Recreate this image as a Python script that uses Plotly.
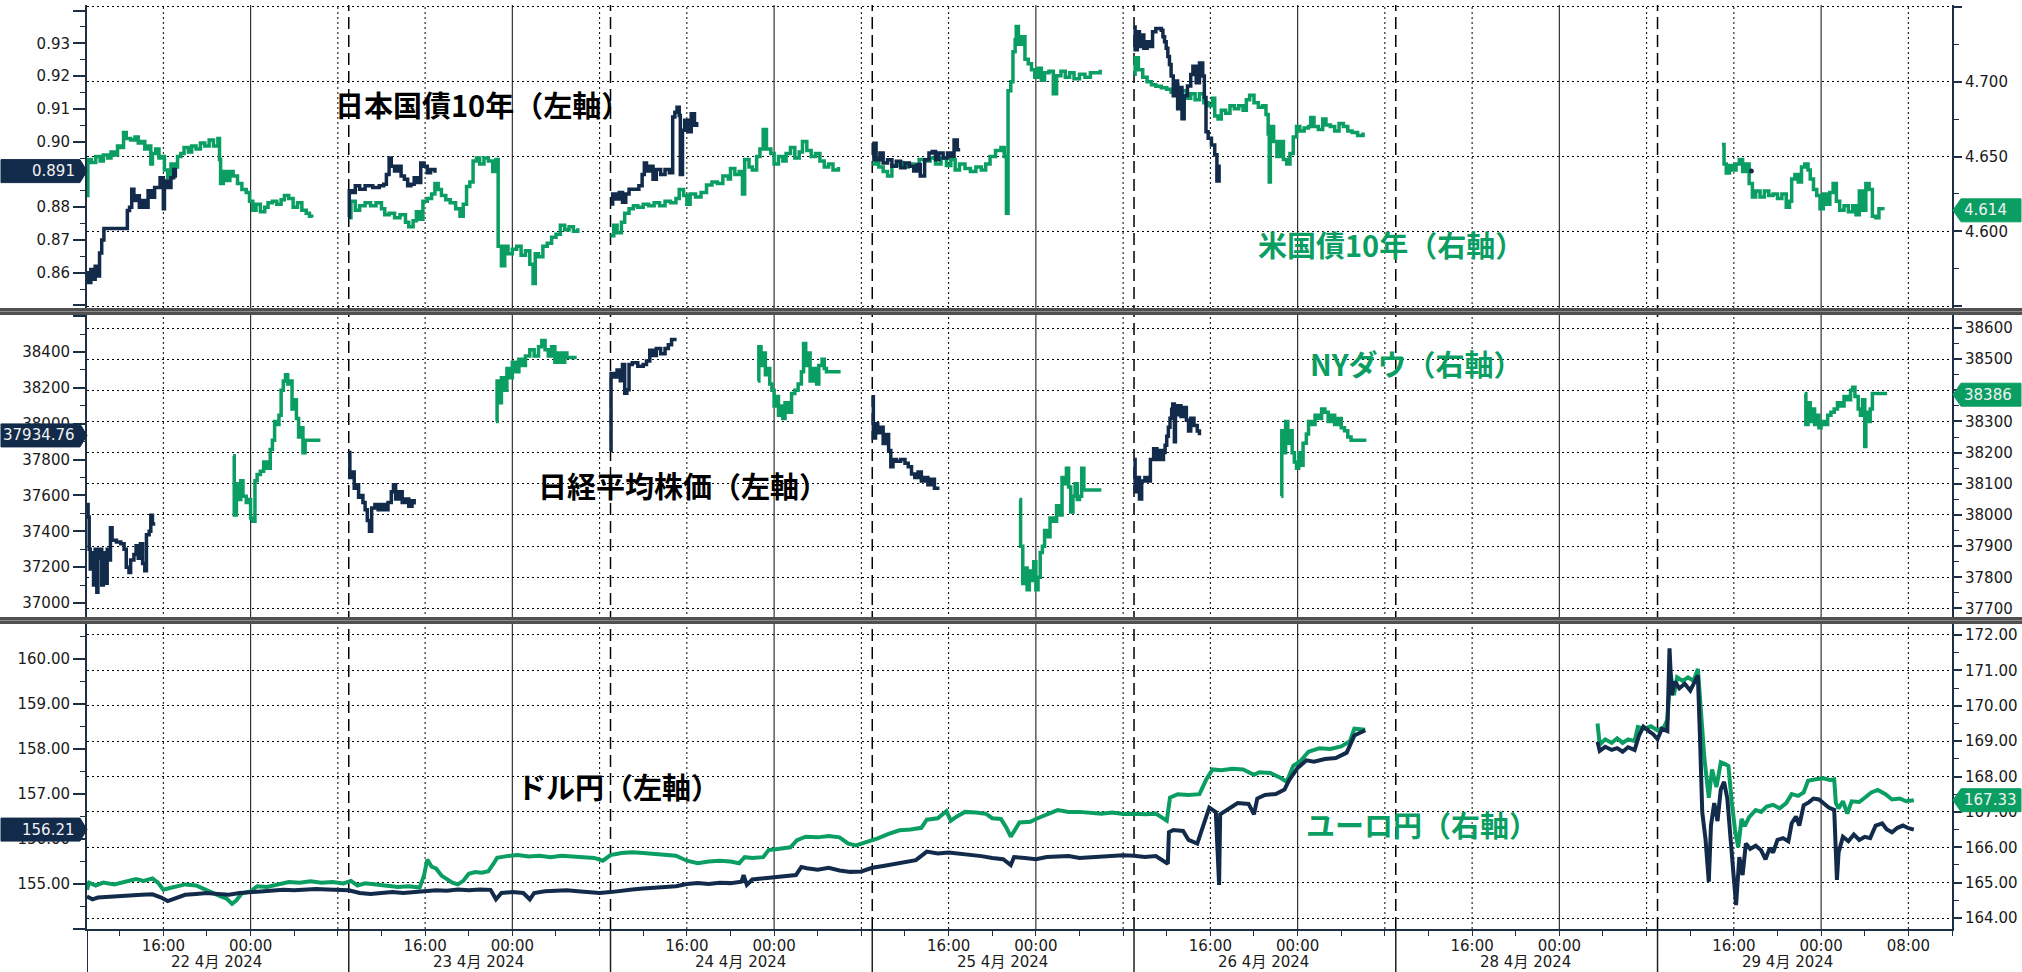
import plotly.graph_objects as go

W, H = 2022, 972
NAVY = '#132b4a'
GREEN = '#0b9e63'
AXC = '#1c2f45'
TXT = '#1a1a1a'

# ---------------- time axis -----------------
# hours since 22 Apr 2024 09:00 JST; the weekend gap (27 Apr 09:00 - 28 Apr 09:00) is removed
SECTION_DATES = ['22 4月 2024', '23 4月 2024', '24 4月 2024', '25 4月 2024',
                 '26 4月 2024', '28 4月 2024', '29 4月 2024']
X_TICK_H = [7, 15, 31, 39, 55, 63, 79, 87, 103, 111, 127, 135, 151, 159, 167]
X_TICK_TEXT = ['16:00', '00:00'] * 7 + ['08:00']

# ---------------- JGB 10y (left axis, panel 1) -----------------
jgb_0422 = [(0.0, .860), (0.15, .857), (0.35, .861), (0.55, .858), (0.75, .862), (0.95, .859), (1.15, .866),
            (1.35, .870), (1.55, .8735), (2.5, .8735), (3.3, .8735), (3.7, .879), (3.9, .880), (4.1, .8855),
            (4.3, .882), (4.6, .8835), (4.8, .880), (5.1, .882), (5.4, .880), (5.6, .885), (5.9, .883),
            (6.2, .886), (6.7, .889), (7.0, .8795), (7.1, .888), (7.4, .886), (7.7, .889), (7.95, .8915), (8.1, .889)]
jgb_0423 = [(24.0, .877), (24.05, .885), (24.3, .8845), (24.6, .8865), (25.0, .8855), (25.5, .8865), (26.2, .886),
            (26.8, .8865), (27.2, .887), (27.45, .890), (27.7, .895), (27.9, .8925), (28.2, .891), (28.5, .8925),
            (28.8, .8895), (29.1, .8885), (29.4, .8865), (29.7, .887), (30.0, .889), (30.3, .8875), (30.6, .8935),
            (30.9, .8925), (31.2, .8905), (31.5, .8915), (31.9, .8905)]
jgb_0424 = [(48.0, .881), (48.2, .884), (48.5, .8825), (48.8, .8845), (49.1, .8815), (49.4, .884), (49.7, .8855),
            (50.2, .8855), (50.6, .8865), (50.9, .890), (51.1, .8935), (51.3, .891), (51.6, .8925), (51.9, .8885),
            (52.2, .8915), (52.6, .890), (53.0, .8915), (53.4, .8905), (53.7, .9075), (53.9, .909), (54.1, .9105),
            (54.3, .908), (54.4, .890), (54.6, .9035), (54.8, .9065), (55.1, .903), (55.4, .9085), (55.7, .905), (55.9, .906)]
jgb_0425 = [(72.0, .8945), (72.15, .8995), (72.35, .8945), (72.7, .8965), (73.0, .8935), (73.4, .8945), (73.8, .8925),
            (74.2, .894), (74.6, .892), (75.0, .8935), (75.4, .8925), (75.8, .891), (76.1, .893), (76.4, .8895),
            (76.8, .8945), (77.2, .8965), (77.5, .897), (77.8, .8945), (78.1, .8965), (78.5, .895), (78.9, .8965),
            (79.2, .8955), (79.5, .9005), (79.8, .8975), (79.9, .897)]
jgb_0426 = [(96.0, .935), (96.1, .928), (96.3, .9335), (96.5, .929), (96.7, .9325), (96.9, .9285), (97.2, .9305),
            (97.5, .929), (97.7, .9335), (98.0, .9345), (98.5, .934), (98.65, .932), (98.8, .9305), (98.95, .9285),
            (99.1, .926), (99.25, .9235), (99.4, .920), (99.6, .914), (99.8, .9185), (100.0, .910), (100.2, .9165),
            (100.4, .907), (100.6, .914), (100.9, .917), (101.2, .9205), (101.4, .923), (101.7, .918), (102.0, .924),
            (102.3, .920), (102.45, .9135), (102.6, .903), (102.8, .901), (103.1, .899), (103.4, .896), (103.6, .888),
            (103.8, .893)]
jgb_0429 = [(152.6, .891)]

# ---------------- UST 10y (right axis, panel 1) -----------------
ust_0422 = [(0.0, 4.624), (0.08, 4.648), (0.4, 4.646), (0.8, 4.650), (1.2, 4.647), (1.5, 4.651), (1.9, 4.649),
            (2.2, 4.653), (2.5, 4.651), (2.8, 4.657), (3.1, 4.656), (3.35, 4.666), (3.6, 4.662), (4.0, 4.661),
            (4.4, 4.663), (4.7, 4.659), (5.0, 4.660), (5.3, 4.655), (5.6, 4.657), (5.85, 4.645), (6.0, 4.652),
            (6.3, 4.655), (6.6, 4.649), (6.9, 4.650), (7.1, 4.641), (7.4, 4.636), (7.7, 4.645), (8.0, 4.643),
            (8.3, 4.650), (8.6, 4.652), (8.9, 4.656), (9.3, 4.653), (9.6, 4.657), (10.0, 4.655), (10.4, 4.659),
            (10.8, 4.657), (11.2, 4.661), (11.6, 4.657), (12.0, 4.662), (12.15, 4.648), (12.25, 4.632), (12.5, 4.640),
            (12.8, 4.634), (13.1, 4.640), (13.4, 4.637), (13.8, 4.632), (14.2, 4.628), (14.6, 4.626), (14.9, 4.620),
            (15.2, 4.614), (15.5, 4.618), (15.9, 4.613), (16.3, 4.616), (16.6, 4.619), (17.0, 4.620), (17.4, 4.618),
            (17.8, 4.621), (18.1, 4.624), (18.5, 4.622), (18.9, 4.616), (19.3, 4.619), (19.7, 4.614), (20.1, 4.612),
            (20.4, 4.610), (20.6, 4.609)]
ust_0423 = [(24.0, 4.609), (24.2, 4.620), (24.6, 4.614), (25.0, 4.617), (25.5, 4.619), (26.0, 4.617), (26.5, 4.619),
            (27.0, 4.615), (27.3, 4.611), (27.7, 4.612), (28.2, 4.609), (28.7, 4.611), (29.2, 4.606), (29.5, 4.603),
            (29.9, 4.607), (30.2, 4.613), (30.5, 4.608), (30.8, 4.620), (31.2, 4.622), (31.6, 4.625), (31.9, 4.632),
            (32.2, 4.628), (32.5, 4.624), (32.9, 4.621), (33.3, 4.619), (33.8, 4.615), (34.2, 4.610), (34.5, 4.618),
            (34.8, 4.630), (35.1, 4.633), (35.4, 4.647), (35.7, 4.649), (36.0, 4.645), (36.4, 4.649), (36.8, 4.647),
            (37.2, 4.640), (37.5, 4.648), (37.7, 4.590), (38.0, 4.577), (38.3, 4.590), (38.6, 4.585), (39.0, 4.588),
            (39.4, 4.590), (39.8, 4.584), (40.2, 4.587), (40.6, 4.578), (40.9, 4.565), (41.1, 4.585), (41.4, 4.583),
            (41.8, 4.590), (42.2, 4.592), (42.6, 4.596), (43.0, 4.598), (43.4, 4.604), (43.8, 4.601), (44.2, 4.603),
            (44.6, 4.600), (45.0, 4.602)]
ust_0424 = [(48.0, 4.597), (48.3, 4.604), (48.6, 4.599), (49.0, 4.606), (49.3, 4.612), (49.7, 4.615), (50.1, 4.617),
            (50.5, 4.616), (51.0, 4.618), (51.5, 4.617), (52.0, 4.619), (52.5, 4.617), (53.0, 4.620), (53.5, 4.619),
            (54.0, 4.622), (54.3, 4.628), (54.7, 4.624), (55.0, 4.618), (55.3, 4.625), (55.8, 4.623), (56.3, 4.626),
            (56.8, 4.631), (57.3, 4.633), (57.8, 4.632), (58.3, 4.637), (58.8, 4.635), (59.0, 4.642), (59.4, 4.638),
            (59.8, 4.640), (60.1, 4.625), (60.3, 4.648), (60.7, 4.643), (61.0, 4.641), (61.4, 4.650), (61.7, 4.655),
            (62.0, 4.668), (62.3, 4.655), (62.7, 4.652), (63.0, 4.645), (63.4, 4.650), (63.8, 4.647), (64.1, 4.652),
            (64.5, 4.656), (64.9, 4.649), (65.3, 4.653), (65.6, 4.660), (66.0, 4.654), (66.4, 4.650), (66.8, 4.652),
            (67.2, 4.647), (67.6, 4.643), (68.0, 4.645), (68.4, 4.641), (68.9, 4.643)]
ust_0425 = [(72.0, 4.645), (72.3, 4.649), (72.6, 4.643), (73.0, 4.640), (73.4, 4.637), (73.8, 4.644), (74.3, 4.646),
            (74.8, 4.643), (75.3, 4.645), (75.8, 4.644), (76.3, 4.648), (76.8, 4.647), (77.3, 4.649), (77.8, 4.645),
            (78.3, 4.649), (78.8, 4.644), (79.2, 4.648), (79.6, 4.641), (80.0, 4.645), (80.5, 4.642), (81.0, 4.640),
            (81.5, 4.643), (82.0, 4.641), (82.4, 4.645), (82.8, 4.650), (83.3, 4.654), (83.8, 4.656), (84.1, 4.650),
            (84.3, 4.612), (84.45, 4.694), (84.7, 4.700), (84.9, 4.720), (85.1, 4.728), (85.2, 4.737), (85.4, 4.725),
            (85.7, 4.730), (86.0, 4.715), (86.3, 4.712), (86.6, 4.708), (86.9, 4.703), (87.2, 4.709), (87.5, 4.701),
            (87.8, 4.706), (88.2, 4.707), (88.6, 4.692), (88.9, 4.704), (89.3, 4.707), (89.7, 4.703), (90.1, 4.706),
            (90.5, 4.702), (91.0, 4.705), (91.5, 4.703), (92.0, 4.706), (92.5, 4.706), (92.9, 4.708)]
ust_0426 = [(96.0, 4.705), (96.1, 4.716), (96.4, 4.708), (96.8, 4.703), (97.2, 4.700), (97.6, 4.698), (98.0, 4.697),
            (98.5, 4.696), (99.0, 4.695), (99.4, 4.693), (99.7, 4.698), (100.0, 4.690), (100.4, 4.694), (100.8, 4.689),
            (101.2, 4.692), (101.6, 4.688), (102.0, 4.692), (102.4, 4.686), (102.8, 4.684), (103.2, 4.689),
            (103.4, 4.677), (103.7, 4.675), (104.0, 4.681), (104.4, 4.679), (104.8, 4.684), (105.2, 4.682),
            (105.6, 4.684), (106.0, 4.681), (106.3, 4.688), (106.6, 4.691), (107.0, 4.686), (107.4, 4.683),
            (107.8, 4.684), (108.1, 4.678), (108.3, 4.665), (108.4, 4.633), (108.5, 4.670), (108.8, 4.660),
            (109.1, 4.650), (109.4, 4.660), (109.7, 4.648), (110.0, 4.645), (110.3, 4.652), (110.6, 4.663),
            (110.9, 4.670), (111.2, 4.667), (111.6, 4.669), (112.0, 4.670), (112.2, 4.676), (112.5, 4.670),
            (112.9, 4.668), (113.3, 4.675), (113.6, 4.671), (114.0, 4.670), (114.4, 4.667), (114.8, 4.672),
            (115.2, 4.670), (115.6, 4.667), (116.0, 4.666), (116.5, 4.664), (117.0, 4.666)]
ust_0429 = [(149.9, 4.658), (150.1, 4.645), (150.3, 4.639), (150.6, 4.644), (150.9, 4.641), (151.2, 4.645),
            (151.5, 4.648), (151.8, 4.640), (152.1, 4.645), (152.4, 4.632), (152.7, 4.623), (153.0, 4.627),
            (153.4, 4.623), (153.8, 4.627), (154.2, 4.624), (154.6, 4.625), (155.0, 4.622), (155.4, 4.625),
            (155.8, 4.616), (156.1, 4.620), (156.3, 4.635), (156.6, 4.638), (156.9, 4.633), (157.2, 4.643),
            (157.5, 4.645), (157.8, 4.641), (158.0, 4.635), (158.3, 4.628), (158.6, 4.624), (158.9, 4.615),
            (159.2, 4.625), (159.5, 4.618), (159.8, 4.626), (160.1, 4.632), (160.4, 4.620), (160.7, 4.614),
            (161.1, 4.617), (161.5, 4.613), (161.9, 4.617), (162.2, 4.611), (162.5, 4.627), (162.8, 4.614),
            (163.1, 4.632), (163.4, 4.628), (163.7, 4.610), (164.0, 4.609), (164.3, 4.615), (164.66, 4.614)]

# ---------------- Nikkei 225 (left axis, panel 2) -----------------
nky_0422 = [(0.0, 37550), (0.1, 37480), (0.2, 37300), (0.3, 37190), (0.45, 37280), (0.6, 37100), (0.75, 37300),
            (0.9, 37060), (1.0, 37250), (1.2, 37300), (1.35, 37100), (1.5, 37280), (1.7, 37110), (1.85, 37300),
            (2.0, 37240), (2.15, 37420), (2.3, 37350), (2.7, 37340), (3.1, 37330), (3.4, 37300), (3.6, 37200),
            (3.85, 37170), (4.0, 37240), (4.3, 37270), (4.5, 37320), (4.7, 37250), (4.9, 37330), (5.1, 37220),
            (5.3, 37180), (5.45, 37380), (5.7, 37400), (5.85, 37490), (6.0, 37440), (6.1, 37450)]
nky_0423 = [(24.0, 37840), (24.1, 37700), (24.3, 37730), (24.5, 37640), (24.7, 37660), (24.9, 37590), (25.1, 37600),
            (25.3, 37560), (25.5, 37520), (25.7, 37460), (25.9, 37400), (26.1, 37530), (26.4, 37550), (26.7, 37520),
            (27.0, 37550), (27.3, 37520), (27.6, 37560), (27.9, 37620), (28.1, 37660), (28.3, 37580), (28.6, 37620),
            (28.9, 37560), (29.2, 37580), (29.5, 37540), (29.8, 37570), (30.0, 37550)]
nky_0424 = [(48.0, 37850), (48.05, 38280), (48.3, 38260), (48.6, 38300), (48.9, 38240), (49.1, 38330), (49.3, 38170),
            (49.5, 38190), (49.7, 38330), (50.0, 38340), (50.5, 38320), (51.0, 38330), (51.3, 38350), (51.6, 38410),
            (51.9, 38380), (52.2, 38420), (52.6, 38390), (53.0, 38420), (53.3, 38440), (53.6, 38470), (53.9, 38460)]
nky_0425 = [(72.0, 38150), (72.1, 37920), (72.3, 38000), (72.5, 37950), (72.8, 37980), (73.0, 37890), (73.3, 37940),
            (73.5, 37850), (73.7, 37760), (73.9, 37800), (74.2, 37790), (74.6, 37800), (75.0, 37780), (75.3, 37760),
            (75.6, 37720), (75.9, 37700), (76.2, 37730), (76.5, 37680), (76.8, 37700), (77.1, 37660), (77.4, 37690),
            (77.7, 37640), (78.0, 37630)]
nky_0426 = [(96.0, 37800), (96.1, 37620), (96.3, 37700), (96.5, 37580), (96.7, 37680), (97.0, 37700), (97.3, 37680),
            (97.5, 37800), (97.8, 37860), (98.1, 37800), (98.4, 37850), (98.55, 37800), (98.7, 37840), (98.85, 37880),
            (99.0, 37930), (99.15, 37980), (99.3, 38030), (99.45, 38080), (99.55, 38110), (99.7, 37900), (99.8, 38050),
            (100.0, 38100), (100.3, 38040), (100.6, 38090), (100.8, 38020), (101.0, 37960), (101.2, 38030),
            (101.5, 37990), (101.8, 37960), (102.0, 37935)]

# ---------------- NY Dow (right axis, panel 2) -----------------
dow_0422 = [(13.4, 38190), (13.5, 38000), (13.7, 38100), (13.9, 38050), (14.1, 38110), (14.3, 38060), (14.6, 38040),
            (14.8, 38050), (15.0, 37990), (15.2, 37980), (15.4, 38110), (15.6, 38130), (15.9, 38140), (16.2, 38170),
            (16.5, 38150), (16.8, 38210), (17.0, 38240), (17.2, 38300), (17.4, 38290), (17.6, 38320), (17.8, 38400),
            (18.0, 38430), (18.2, 38450), (18.4, 38420), (18.6, 38430), (18.8, 38340), (19.0, 38370), (19.2, 38310),
            (19.4, 38250), (19.6, 38280), (19.8, 38200), (20.0, 38240), (21.4, 38240)]
dow_0423 = [(37.5, 38300), (37.6, 38430), (37.8, 38360), (38.0, 38440), (38.3, 38400), (38.5, 38470), (38.8, 38440),
            (39.0, 38490), (39.3, 38460), (39.6, 38500), (39.9, 38480), (40.2, 38510), (40.6, 38530), (41.0, 38510),
            (41.4, 38540), (41.7, 38560), (42.0, 38530), (42.3, 38510), (42.6, 38540), (42.9, 38490), (43.2, 38520),
            (43.5, 38490), (43.8, 38520), (44.0, 38505), (44.9, 38505)]
dow_0424 = [(61.5, 38430), (61.6, 38540), (61.8, 38480), (62.0, 38520), (62.2, 38450), (62.4, 38470), (62.6, 38420),
            (62.8, 38400), (63.0, 38350), (63.2, 38380), (63.4, 38320), (63.6, 38350), (63.8, 38310), (64.0, 38360),
            (64.3, 38330), (64.6, 38390), (64.9, 38400), (65.2, 38420), (65.5, 38460), (65.7, 38550), (65.9, 38480),
            (66.1, 38520), (66.3, 38430), (66.6, 38470), (66.9, 38420), (67.1, 38480), (67.4, 38500), (67.6, 38470),
            (67.8, 38460), (69.1, 38460)]
dow_0425 = [(85.5, 38050), (85.6, 37900), (85.8, 37780), (86.0, 37830), (86.2, 37760), (86.4, 37820), (86.6, 37790),
            (86.8, 37850), (87.0, 37760), (87.2, 37800), (87.4, 37880), (87.6, 37900), (87.8, 37950), (88.0, 37930),
            (88.3, 37990), (88.6, 37980), (88.9, 38030), (89.1, 38000), (89.4, 38120), (89.6, 38100), (89.8, 38150),
            (90.0, 38090), (90.2, 38010), (90.4, 38060), (90.6, 38100), (90.8, 38050), (91.0, 38060), (91.2, 38150),
            (91.4, 38080), (93.0, 38080)]
dow_0426 = [(109.5, 38060), (109.55, 38270), (109.7, 38200), (109.9, 38300), (110.1, 38230), (110.3, 38270),
            (110.5, 38200), (110.7, 38170), (110.9, 38150), (111.1, 38200), (111.3, 38160), (111.5, 38230),
            (111.8, 38260), (112.0, 38300), (112.3, 38290), (112.6, 38320), (112.9, 38310), (113.2, 38340),
            (113.5, 38330), (113.8, 38300), (114.1, 38320), (114.4, 38290), (114.7, 38310), (115.0, 38280),
            (115.3, 38270), (115.6, 38250), (115.9, 38240), (117.3, 38240)]
dow_0429 = [(157.5, 38390), (157.6, 38290), (157.8, 38360), (158.0, 38300), (158.2, 38340), (158.4, 38290),
            (158.6, 38320), (158.8, 38280), (159.0, 38300), (159.3, 38290), (159.6, 38320), (159.9, 38330),
            (160.2, 38340), (160.5, 38360), (160.8, 38350), (161.1, 38380), (161.4, 38370), (161.7, 38400),
            (161.9, 38410), (162.1, 38380), (162.4, 38340), (162.6, 38320), (162.8, 38370), (163.0, 38220),
            (163.1, 38330), (163.3, 38300), (163.5, 38340), (163.7, 38390), (165.05, 38390)]

# ---------------- USD/JPY (left axis, panel 3) -----------------
usd_a = [(0.0, 154.72), (0.5, 154.66), (1.0, 154.70), (2.0, 154.72), (3.0, 154.74), (4.0, 154.75), (5.0, 154.76),
         (6.0, 154.77), (6.8, 154.70), (7.4, 154.62), (8.0, 154.68), (9.0, 154.76), (10.0, 154.78), (11.0, 154.80),
         (12.0, 154.78), (13.0, 154.76), (14.0, 154.80), (15.0, 154.82), (16.0, 154.84), (17.0, 154.85),
         (18.0, 154.87), (19.0, 154.86), (20.0, 154.88), (21.0, 154.89), (22.0, 154.88), (23.0, 154.87),
         (24.0, 154.86), (25.0, 154.80), (26.0, 154.78), (27.0, 154.80), (28.0, 154.82), (29.0, 154.80),
         (30.0, 154.82), (31.0, 154.84), (32.0, 154.86), (33.0, 154.85), (34.0, 154.88), (35.0, 154.86),
         (36.0, 154.88), (37.0, 154.87), (37.5, 154.66), (38.0, 154.80), (39.0, 154.82), (40.0, 154.80),
         (40.6, 154.66), (41.0, 154.80), (42.0, 154.84), (43.0, 154.85), (44.0, 154.86), (45.0, 154.84),
         (46.0, 154.82), (47.0, 154.80), (48.0, 154.82), (49.0, 154.86), (50.0, 154.88), (51.0, 154.90),
         (52.0, 154.92), (53.0, 154.94), (54.0, 154.95), (55.0, 155.00), (56.0, 155.02), (57.0, 155.00),
         (58.0, 155.03), (59.0, 155.02), (60.0, 155.05), (60.2, 155.20), (60.5, 154.98), (61.0, 155.10),
         (62.0, 155.12), (63.0, 155.15), (64.0, 155.18), (65.0, 155.20), (65.5, 155.38), (66.0, 155.35),
         (67.0, 155.32), (68.0, 155.36), (69.0, 155.30), (70.0, 155.27), (71.0, 155.28), (72.0, 155.36),
         (73.0, 155.40), (74.0, 155.45), (75.0, 155.48), (76.0, 155.53), (77.0, 155.72), (78.0, 155.68),
         (79.0, 155.70), (80.0, 155.68), (81.0, 155.66), (82.0, 155.62), (83.0, 155.58), (84.0, 155.55),
         (84.7, 155.42), (85.0, 155.60), (86.0, 155.58), (87.0, 155.55), (88.0, 155.60), (89.0, 155.60),
         (90.0, 155.62), (91.0, 155.58), (92.0, 155.60), (93.0, 155.62), (94.0, 155.62), (95.0, 155.64),
         (96.0, 155.63), (97.0, 155.60), (98.0, 155.62), (99.1, 155.45), (99.2, 156.15), (99.6, 156.20),
         (100.5, 156.18), (101.0, 155.98), (101.8, 155.90), (102.5, 156.45), (102.9, 156.70), (103.5, 156.60),
         (103.8, 154.98), (103.9, 156.55), (104.5, 156.65), (105.5, 156.80), (106.5, 156.78), (107.0, 156.55),
         (107.3, 156.90), (108.0, 156.98), (109.0, 157.00), (109.8, 157.10), (110.2, 157.30), (111.0, 157.58),
         (111.8, 157.75), (112.5, 157.72), (113.5, 157.78), (114.5, 157.80), (115.5, 157.92), (116.2, 158.30),
         (117.2, 158.42)]
usd_b = [(138.5, 158.16), (138.7, 157.96), (139.2, 158.05), (139.8, 157.98), (140.3, 158.02), (140.8, 157.94),
         (141.3, 158.04), (141.9, 157.98), (142.3, 158.30), (142.7, 158.50), (143.2, 158.40), (143.6, 158.33),
         (144.0, 158.22), (144.4, 158.45), (144.9, 158.40), (145.1, 160.24), (145.3, 159.20), (145.6, 159.50),
         (146.0, 159.35), (146.5, 159.45), (147.0, 159.30), (147.5, 159.55), (147.7, 159.64), (147.9, 158.20),
         (148.1, 156.60), (148.4, 156.00), (148.7, 155.05), (148.9, 156.30), (149.2, 156.80), (149.5, 156.40),
         (149.8, 157.10), (150.1, 157.27), (150.4, 156.90), (150.7, 156.00), (150.9, 155.40), (151.2, 154.53),
         (151.5, 155.60), (151.8, 155.20), (152.1, 155.90), (152.5, 155.78), (153.0, 155.85), (153.5, 155.75),
         (153.9, 155.55), (154.3, 155.80), (154.6, 155.70), (155.0, 155.98), (155.5, 156.02), (156.0, 155.95),
         (156.3, 156.35), (156.7, 156.50), (157.0, 156.30), (157.4, 156.75), (157.9, 156.82), (158.3, 156.90),
         (158.8, 156.88), (159.2, 156.80), (159.7, 156.70), (160.2, 156.65), (160.45, 155.09), (160.6, 155.70),
         (161.0, 156.05), (161.5, 155.95), (162.0, 156.10), (162.5, 155.98), (163.0, 156.05), (163.5, 156.02),
         (164.0, 156.30), (164.6, 156.35), (165.0, 156.22), (165.5, 156.15), (166.0, 156.25), (166.5, 156.30),
         (167.0, 156.24), (167.5, 156.21)]

# ---------------- EUR/JPY (right axis, panel 3) -----------------
eur_a = [(0.0, 164.80), (0.2, 165.00), (0.8, 164.92), (1.5, 165.00), (2.5, 164.95), (3.5, 165.02), (4.5, 165.10),
         (5.2, 165.05), (6.0, 165.12), (6.5, 165.00), (7.0, 164.80), (7.6, 164.85), (8.2, 164.90), (9.0, 164.95),
         (10.0, 164.92), (10.8, 164.80), (11.5, 164.70), (12.2, 164.62), (12.8, 164.55), (13.3, 164.40),
         (13.7, 164.50), (14.2, 164.70), (15.0, 164.75), (15.6, 164.90), (16.5, 164.88), (17.5, 164.95),
         (18.5, 165.02), (19.5, 165.00), (20.5, 165.04), (21.5, 165.00), (22.5, 165.02), (23.5, 164.98),
         (24.2, 165.05), (24.8, 164.92), (25.5, 164.98), (26.5, 164.95), (27.5, 164.92), (28.5, 164.88),
         (29.5, 164.90), (30.5, 164.86), (30.9, 165.20), (31.2, 165.65), (31.6, 165.45), (32.0, 165.40),
         (32.5, 165.20), (33.0, 165.10), (33.5, 165.00), (34.0, 164.95), (34.5, 165.05), (35.0, 165.25),
         (35.6, 165.30), (36.2, 165.28), (36.8, 165.32), (37.3, 165.55), (37.6, 165.70), (38.5, 165.75),
         (39.5, 165.78), (40.5, 165.74), (41.5, 165.76), (42.5, 165.72), (43.5, 165.76), (44.5, 165.74),
         (45.5, 165.72), (46.5, 165.70), (47.3, 165.62), (48.0, 165.78), (49.0, 165.84), (50.0, 165.86),
         (51.0, 165.84), (52.0, 165.82), (53.0, 165.80), (54.0, 165.76), (55.0, 165.62), (56.0, 165.55),
         (57.0, 165.60), (58.0, 165.62), (59.0, 165.60), (59.8, 165.55), (60.3, 165.72), (61.0, 165.70),
         (62.0, 165.72), (62.5, 165.92), (63.5, 165.96), (64.5, 166.00), (65.1, 166.20), (65.9, 166.30),
         (67.0, 166.28), (68.0, 166.32), (69.0, 166.28), (69.8, 166.10), (70.5, 166.05), (71.5, 166.15),
         (72.5, 166.25), (73.5, 166.38), (74.5, 166.48), (75.5, 166.50), (76.5, 166.55), (77.0, 166.78),
         (78.0, 166.82), (78.8, 167.02), (79.2, 166.75), (79.8, 166.88), (80.5, 167.00), (81.5, 166.98),
         (82.4, 166.95), (83.0, 166.82), (83.8, 166.80), (84.3, 166.55), (84.7, 166.30), (85.0, 166.45),
         (85.5, 166.70), (86.5, 166.72), (87.0, 166.80), (89.0, 167.05), (90.0, 167.00), (91.0, 167.00),
         (92.0, 166.98), (93.0, 166.95), (94.0, 166.98), (95.0, 166.94), (96.0, 166.95), (97.0, 166.93),
         (98.0, 166.95), (99.0, 166.75), (99.3, 167.40), (100.0, 167.50), (101.0, 167.48), (102.0, 167.50),
         (102.6, 167.90), (103.2, 168.20), (104.0, 168.18), (105.0, 168.22), (106.0, 168.20), (107.0, 168.05),
         (107.5, 168.12), (108.5, 168.10), (109.5, 167.95), (110.0, 167.85), (110.6, 168.30), (111.3, 168.45),
         (112.0, 168.70), (113.0, 168.80), (114.0, 168.78), (115.0, 168.85), (115.8, 169.00), (116.2, 169.35),
         (117.2, 169.32)]
eur_b = [(138.5, 169.50), (138.7, 168.90), (139.2, 169.05), (139.8, 168.95), (140.3, 169.08), (140.8, 168.95),
         (141.3, 169.05), (141.9, 169.00), (142.2, 169.40), (142.8, 169.35), (143.4, 169.42), (144.0, 169.30),
         (144.6, 169.40), (144.9, 169.60), (145.2, 170.90), (145.5, 170.30), (145.8, 170.80), (146.3, 170.70),
         (146.8, 170.80), (147.3, 170.70), (147.7, 171.04), (148.0, 169.80), (148.3, 168.50), (148.7, 167.40),
         (149.0, 168.20), (149.4, 167.70), (149.8, 168.40), (150.2, 168.35), (150.5, 168.30), (150.8, 167.30),
         (151.1, 166.50), (151.4, 166.00), (151.7, 166.80), (152.0, 166.60), (152.4, 166.85), (153.0, 167.05),
         (153.5, 167.00), (154.0, 167.15), (154.6, 167.20), (155.2, 167.10), (155.8, 167.25), (156.3, 167.50),
         (156.9, 167.45), (157.4, 167.55), (157.8, 167.88), (158.5, 167.92), (159.2, 167.95), (159.8, 167.90),
         (160.2, 167.92), (160.35, 167.25), (160.6, 167.10), (161.0, 167.30), (161.4, 166.95), (161.8, 167.30),
         (162.5, 167.28), (163.0, 167.40), (163.6, 167.55), (164.2, 167.62), (164.9, 167.50), (165.5, 167.35),
         (166.2, 167.38), (166.8, 167.30), (167.5, 167.33)]

LAST = {'jgb': 0.891, 'ust': 4.614, 'nky': 37934.76, 'dow': 38386, 'usd': 156.21, 'eur': 167.33}
LAST_TXT = {'jgb': '0.891', 'ust': '4.614', 'nky': '37934.76', 'dow': '38386', 'usd': '156.21', 'eur': '167.33'}

# ---------------- geometry -----------------
def px_x(px):
    return px / W


def px_y(px):
    return 1 - px / H


XDOM = [px_x(87), px_x(1952)]
P1 = (5, 308)
P2 = (315, 617)
P3 = (624, 929)
R_UST = [4.5487, 4.7513]
R_JGB = [0.84923, 0.94169]
R_DOW = [37672.7, 38641.7]
R_NKY = [36921.9, 38606.4]
R_EUR = [163.69, 172.31]
R_USD = [154.0, 160.78]


def dom(p):
    return [px_y(p[1]), px_y(p[0])]


def join(*segs):
    xs, ys = [], []
    for i, s in enumerate(segs):
        if i:
            xs.append(None)
            ys.append(None)
        xs += [a for a, b in s]
        ys += [b for a, b in s]
    return xs, ys


fig = go.Figure()


def add(segs, yaxis, color, shape='hv', width=3.5):
    xs, ys = join(*segs)
    fig.add_trace(go.Scatter(x=xs, y=ys, mode='lines', yaxis=yaxis, xaxis='x',
                             line=dict(color=color, width=width, shape=shape),
                             connectgaps=False, hoverinfo='skip'))


add([ust_0422, ust_0423, ust_0424, ust_0425, ust_0426, ust_0429], 'y', GREEN)
add([jgb_0422, jgb_0423, jgb_0424, jgb_0425, jgb_0426], 'y2', NAVY)
fig.add_trace(go.Scatter(x=[p[0] for p in jgb_0429], y=[p[1] for p in jgb_0429], mode='markers',
                         yaxis='y2', xaxis='x', marker=dict(color=NAVY, size=5), hoverinfo='skip'))
add([dow_0422, dow_0423, dow_0424, dow_0425, dow_0426, dow_0429], 'y3', GREEN)
add([nky_0422, nky_0423, nky_0424, nky_0425, nky_0426], 'y4', NAVY)
add([eur_a, eur_b], 'y5', GREEN, shape='linear', width=4)
add([usd_a, usd_b], 'y6', NAVY, shape='linear', width=4)

TF = dict(family='DejaVu Sans, Noto Sans CJK JP', size=15, color=TXT)
GRID = dict(showgrid=True, gridcolor='#000000', gridwidth=1, griddash='2px,3px')


def yax(p, rng, side, tickvals, ticktext, minor_dtick, minor_tick0, ticklen, overlay=None, grid=False):
    d = dict(domain=dom(p), range=rng, side=side, anchor='x',
             tickmode='array', tickvals=tickvals, ticktext=ticktext,
             ticks='outside', ticklen=ticklen, tickwidth=2, tickcolor=AXC,
             minor=dict(tickmode='linear', dtick=minor_dtick, tick0=minor_tick0, ticks='outside',
                        ticklen=5, tickwidth=1, tickcolor=AXC),
             showline=True, linecolor=AXC, linewidth=2, zeroline=False,
             tickfont=TF, fixedrange=True)
    if grid:
        d.update(GRID)
    else:
        d['showgrid'] = False
    if overlay:
        d['overlaying'] = overlay
    return d


ust_tv = [4.55, 4.60, 4.65, 4.70, 4.75]
ust_tt = ['', '4.600', '4.650', '4.700', '']
jgb_tv = [0.85, 0.86, 0.87, 0.88, 0.89, 0.90, 0.91, 0.92, 0.93, 0.94]
jgb_tt = [''] + [f'{v:.2f}' for v in jgb_tv[1:-1]] + ['']
dow_tv = list(range(37700, 38700, 100))
dow_tt = [str(v) for v in dow_tv]
nky_tv = list(range(36800, 38800, 200))
nky_tt = ['' if v in (36800, 38600) else str(v) for v in nky_tv]
eur_tv = list(range(164, 173))
eur_tt = [f'{v:.2f}' for v in eur_tv]
usd_tv = list(range(154, 161))
usd_tt = [''] + [f'{v:.2f}' for v in usd_tv[1:]]

layout = dict(
    width=W, height=H, margin=dict(l=0, r=0, t=0, b=0),
    paper_bgcolor='white', plot_bgcolor='rgba(0,0,0,0)', showlegend=False,
    xaxis=dict(domain=XDOM, range=[0, 171], anchor='y5', tickmode='array', tickvals=X_TICK_H,
               ticktext=X_TICK_TEXT, ticks='outside', ticklen=5, tickwidth=1, tickcolor=AXC,
               minor=dict(tickmode='linear', tick0=3, dtick=4, ticks='outside', ticklen=5, tickwidth=1,
                          tickcolor=AXC),
               showline=True, linecolor=AXC, linewidth=2, showgrid=False, zeroline=False,
               tickfont=TF, fixedrange=True, ticklabelstandoff=-3),
    yaxis=yax(P1, R_UST, 'right', ust_tv, ust_tt, 0.025, 4.525, 8, grid=True),
    yaxis2=yax(P1, R_JGB, 'left', jgb_tv, jgb_tt, 0.005, 0.845, 12, overlay='y'),
    yaxis3=yax(P2, R_DOW, 'right', dow_tv, dow_tt, 50, 37650, 8, grid=True),
    yaxis4=yax(P2, R_NKY, 'left', nky_tv, nky_tt, 100, 36900, 12, overlay='y3'),
    yaxis5=yax(P3, R_EUR, 'right', eur_tv, eur_tt, 0.5, 163.5, 8, grid=True),
    yaxis6=yax(P3, R_USD, 'left', usd_tv, usd_tt, 0.5, 153.5, 12, overlay='y5'),
)
fig.update_layout(**layout)

shapes = []
# vertical grid lines through all panels
for k in range(7):
    base = 24 * k
    for hh in (base + 7, base + 23):
        shapes.append(dict(type='line', xref='x', yref='paper', x0=hh, x1=hh, y0=px_y(929), y1=px_y(5),
                           line=dict(color='#000000', width=1, dash='2px,3px'), layer='below'))
    shapes.append(dict(type='line', xref='x', yref='paper', x0=base + 15, x1=base + 15, y0=px_y(929),
                       y1=px_y(5), line=dict(color='#333333', width=1.2), layer='below'))
    if k:
        shapes.append(dict(type='line', xref='x', yref='paper', x0=base, x1=base, y0=px_y(929), y1=px_y(5),
                           line=dict(color='#000000', width=1.5, dash='12px,6px'), layer='below'))
        shapes.append(dict(type='line', xref='x', yref='paper', x0=base, x1=base, y0=0, y1=px_y(929),
                           line=dict(color='#222222', width=1.5), layer='above'))
shapes.append(dict(type='line', xref='x', yref='paper', x0=0, x1=0, y0=0, y1=px_y(929),
                   line=dict(color=AXC, width=2), layer='above'))

# panel separators
for top in (308, 617):
    shapes.append(dict(type='rect', xref='paper', yref='paper', x0=0, x1=1, y0=px_y(top + 7), y1=px_y(top),
                       fillcolor='#505050', line=dict(width=0), layer='above'))
    shapes.append(dict(type='line', xref='paper', yref='paper', x0=0, x1=1, y0=px_y(top + 3.5),
                       y1=px_y(top + 3.5), line=dict(color='#8c8c8c', width=1), layer='above'))


def value_box(side, val, yref, rng, p, color):
    ppu = (p[1] - p[0]) / (rng[1] - rng[0])
    dv = 11.5 / ppu
    if side == 'left':
        pts = [(1, val - dv), (80, val - dv), (87, val), (80, val + dv), (1, val + dv)]
    else:
        pts = [(1953, val), (1961, val - dv), (2021, val - dv), (2021, val + dv), (1961, val + dv)]
    path = 'M ' + ' L '.join(f'{px_x(a):.5f},{b}' for a, b in pts) + ' Z'
    return dict(type='path', xref='paper', yref=yref, path=path, fillcolor=color,
                line=dict(color=color, width=1), layer='above')


shapes.append(value_box('left', LAST['jgb'], 'y2', R_JGB, P1, NAVY))
shapes.append(value_box('right', LAST['ust'], 'y', R_UST, P1, GREEN))
shapes.append(value_box('left', LAST['nky'], 'y4', R_NKY, P2, NAVY))
shapes.append(value_box('right', LAST['dow'], 'y3', R_DOW, P2, GREEN))
shapes.append(value_box('left', LAST['usd'], 'y6', R_USD, P3, NAVY))
shapes.append(value_box('right', LAST['eur'], 'y5', R_EUR, P3, GREEN))
fig.update_layout(shapes=shapes)

ann = []
VF = dict(family='DejaVu Sans', size=15, color='#f2f2f2')
for key, yref, side in (('jgb', 'y2', 'left'), ('ust', 'y', 'right'), ('nky', 'y4', 'left'),
                        ('dow', 'y3', 'right'), ('usd', 'y6', 'left'), ('eur', 'y5', 'right')):
    if side == 'left':
        ann.append(dict(xref='paper', yref=yref, x=px_x(77), y=LAST[key], xanchor='right', yanchor='middle',
                        text=LAST_TXT[key], showarrow=False, font=VF))
    else:
        ann.append(dict(xref='paper', yref=yref, x=px_x(1962), y=LAST[key], xanchor='left', yanchor='middle',
                        text=LAST_TXT[key], showarrow=False, font=VF))

LF = 'Noto Sans CJK JP'
labels = [('日本国債10年（左軸）', 482, 104, '#000000'),
          ('米国債10年（右軸）', 1391, 244, GREEN),
          ('NYダウ（右軸）', 1416, 363, GREEN),
          ('日経平均株価（左軸）', 683, 485, '#000000'),
          ('ドル円（左軸）', 618, 786, '#000000'),
          ('ユーロ円（右軸）', 1422, 824, GREEN)]
for t, cx, cy, col in labels:
    ann.append(dict(xref='paper', yref='paper', x=px_x(cx), y=px_y(cy), xanchor='center', yanchor='middle',
                    text=f'<b>{t}</b>', showarrow=False, font=dict(family=LF, size=29, color=col)))

for k, d in enumerate(SECTION_DATES):
    ann.append(dict(xref='x', yref='paper', x=24 * k + 11.9, y=px_y(962), xanchor='center', yanchor='middle',
                    text=d, showarrow=False, font=dict(family='DejaVu Sans, Noto Sans CJK JP', size=15, color=TXT)))
fig.update_layout(annotations=ann)

fig.write_html('out.html', config={'displayModeBar': False},
               post_script="document.body.style.margin='0';document.body.style.overflow='hidden';")
